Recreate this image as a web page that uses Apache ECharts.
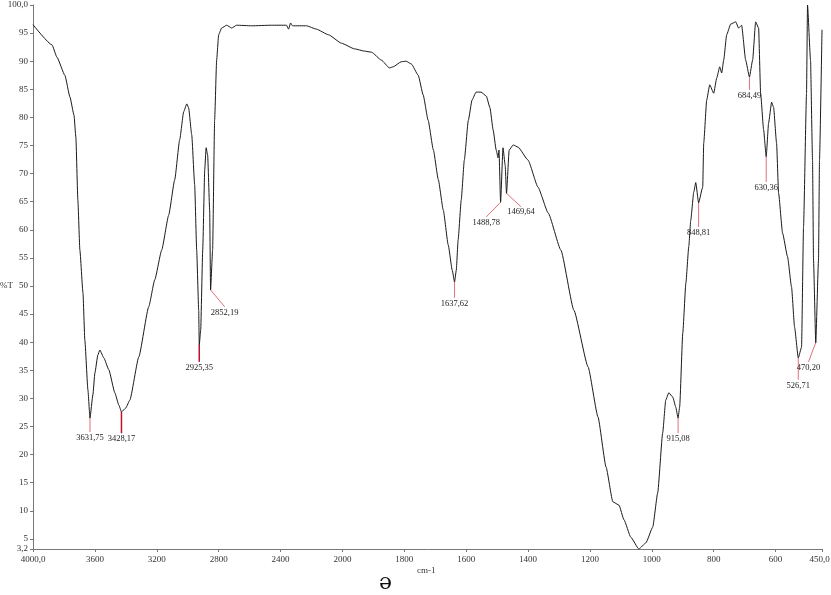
<!DOCTYPE html>
<html>
<head>
<meta charset="utf-8">
<script src="https://cdn.jsdelivr.net/npm/echarts@6/dist/echarts.min.js"></script>
<style>
  html, body { margin: 0; padding: 0; background: #fff; }
  #chart { width: 831px; height: 595px; }
</style>
</head>
<body>
<div id="chart"></div>
<script>
// spectrum, wavenumber (cm-1) and %T
const waveNumbers = [4000, 3877, 3845, 3794, 3761, 3735, 3723, 3710, 3697, 3677, 3665, 3645, 3631.75, 3613, 3600, 3581, 3568, 3542, 3510, 3471, 3445, 3428.17, 3400, 3374, 3316, 3252, 3213, 3168, 3123, 3084, 3052, 3026, 3006, 2994, 2974, 2955, 2942, 2929, 2925.35, 2916, 2903, 2890, 2881, 2871, 2858, 2852.19, 2839, 2826, 2813, 2800, 2781, 2748, 2716, 2684, 2587, 2458, 2361, 2348, 2335, 2323, 2232, 2168, 2090, 2006, 1961, 1929, 1906, 1874, 1848, 1836, 1810, 1794, 1777, 1755, 1739, 1723, 1706, 1690, 1674, 1658, 1645, 1637.62, 1632, 1626, 1616, 1606, 1593, 1581, 1568, 1552, 1535, 1523, 1513, 1503, 1497, 1494, 1488.78, 1481, 1474, 1469.64, 1461, 1448, 1432, 1400, 1368, 1335, 1294, 1252, 1206, 1174, 1148, 1126, 1106, 1090, 1068, 1042, 1019, 997, 981, 965, 955, 945, 932, 923, 915.08, 910, 900, 890, 880.6, 874.2, 864.5, 858.1, 848.81, 835.5, 832.3, 822.6, 812.9, 800, 790.3, 780.6, 774.2, 767.7, 758.1, 745.2, 729, 719.4, 709.7, 696.8, 684.49, 674.2, 664.5, 654.8, 648.4, 638.7, 630.36, 622.6, 612.9, 606.5, 596.8, 590.3, 577.4, 561.3, 548.4, 538.7, 526.71, 516.1, 509.7, 500, 496.8, 487.1, 480.6, 477.4, 470.2, 461.3, 458.1, 450];
const transmittance = [96.5, 92.9, 90.7, 87.5, 83.6, 80.4, 76.5, 65.3, 56.4, 48.8, 40.4, 31.5, 26.5, 30.6, 34.5, 37.7, 38.6, 37.2, 35.1, 31.0, 28.8, 27.6, 28.3, 29.7, 37.4, 46.3, 51.1, 56.4, 62.6, 68.9, 76.0, 81.0, 82.4, 81.7, 76.9, 68.0, 56.4, 45.7, 39.5, 42.2, 56.4, 70.6, 74.6, 73.3, 63.5, 49.3, 56.4, 79.5, 90.2, 94.7, 95.9, 96.4, 95.9, 96.4, 96.3, 96.4, 96.4, 95.7, 96.8, 96.3, 96.3, 95.7, 94.7, 93.2, 92.2, 91.8, 91.6, 90.2, 88.8, 89.0, 89.9, 90.0, 89.5, 87.5, 84.0, 79.5, 74.2, 68.9, 63.5, 57.3, 52.8, 50.7, 52.8, 58.2, 65.3, 72.4, 79.5, 83.1, 84.5, 84.5, 83.8, 81.7, 77.8, 74.2, 72.8, 74.2, 64.9, 74.6, 71.5, 66.5, 74.2, 75.1, 74.7, 72.4, 67.6, 63.0, 56.4, 45.7, 35.6, 26.7, 17.8, 11.6, 11.0, 8.4, 5.3, 3.2, 4.3, 7.1, 13.2, 23.8, 29.7, 31.0, 30.2, 28.5, 26.5, 28.5, 41.6, 50.5, 57.0, 61.7, 66.7, 68.4, 64.8, 67.6, 75.4, 83.1, 85.8, 84.3, 87.0, 89.0, 87.9, 90.2, 94.7, 96.6, 97.0, 95.9, 96.4, 90.2, 87.2, 90.2, 97.0, 95.9, 84.3, 77.8, 73.0, 79.0, 82.7, 81.8, 75.4, 66.5, 59.4, 55.2, 49.8, 42.7, 37.2, 39.1, 60.5, 84.3, 100, 90.2, 72.4, 54.6, 39.9, 54.6, 72.4, 95.6];

// peak picks
const peakLabels = ['3631,75', '3428,17', '2925,35', '2852,19', '1637,62', '1488,78', '1469,64', '915,08', '848,81', '684,49', '630,36', '526,71', '470,20'];
const peakWave = [3631.75, 3428.17, 2925.35, 2852.19, 1637.62, 1488.78, 1469.64, 915.08, 848.81, 684.49, 630.36, 526.71, 470.20];
const peakT = [26.5, 27.6, 39.5, 49.3, 50.7, 64.9, 66.5, 26.5, 64.8, 87.2, 73.0, 37.2, 39.9];
const leaderEndWave = [3631.75, 3428.17, 2925.35, 2761, 1637.62, 1535, 1423, 915.08, 848.81, 684.49, 630.36, 526.71, 493.6];
const leaderEndT = [24.0, 23.8, 36.5, 46.3, 47.9, 62.3, 64.1, 23.8, 60.5, 84.9, 68.5, 33.3, 36.5];

const xTicks = [4000, 3600, 3200, 2800, 2400, 2000, 1800, 1600, 1400, 1200, 1000, 800, 600, 450];
const yTicks = [3.2, 5, 10, 15, 20, 25, 30, 35, 40, 45, 50, 55, 60, 65, 70, 75, 80, 85, 90, 95, 100];

// axis is compressed 2:1 above 2000 cm-1
const toAxis = w => (w > 2000 ? 2000 + (w - 2000) / 2 : w);
const fromAxis = u => (u > 2000 ? 2000 + (u - 2000) * 2 : u);

const font = 'Liberation Serif';

const chart = echarts.init(document.getElementById('chart'));

const option = {
  animation: false,
  backgroundColor: '#fff',
  grid: { left: 33, right: 9, top: 5, bottom: 46, outerBoundsMode: 'none' },
  xAxis: {
    type: 'value',
    inverse: true,
    min: toAxis(450),
    max: toAxis(4000),
    axisLine: { lineStyle: { color: '#777', width: 1 } },
    axisTick: { show: true, length: 3, customValues: xTicks.map(toAxis), lineStyle: { color: '#777' } },
    axisLabel: {
      customValues: xTicks.map(toAxis),
      color: '#333',
      fontFamily: font,
      fontSize: 9,
      margin: 6,
      formatter: v => {
        const w = Math.round(fromAxis(v));
        if (w === 450) return '{end|450,0}';
        return w === 4000 ? '4000,0' : String(w);
      },
      rich: {
        end: { fontFamily: font, fontSize: 9, color: '#333', padding: [0, 5, 0, 0] }
      }
    },
    splitLine: { show: false }
  },
  yAxis: {
    type: 'value',
    min: 3.2,
    max: 100,
    axisLine: { show: true, lineStyle: { color: '#777', width: 1 } },
    axisTick: { show: true, length: 3, customValues: yTicks, lineStyle: { color: '#777' } },
    axisLabel: {
      customValues: yTicks,
      color: '#333',
      fontFamily: font,
      fontSize: 9,
      margin: 5,
      formatter: v => (v === 100 ? '100,0' : v === 3.2 ? '3,2' : String(v))
    },
    splitLine: { show: false }
  },
  series: [
    {
      type: 'line',
      data: waveNumbers.map((w, i) => [toAxis(w), transmittance[i]]),
      showSymbol: false,
      smooth: 0.15,
      smoothMonotone: 'x',
      lineStyle: { color: '#1a1a1a', width: 1 },
      silent: true
    },
    {
      type: 'custom',
      data: peakWave.map((w, i) => [toAxis(w), peakT[i], toAxis(leaderEndWave[i]), leaderEndT[i], i]),
      renderItem: (params, api) => {
        const p0 = api.coord([api.value(0), api.value(1)]);
        const p1 = api.coord([api.value(2), api.value(3)]);
        const idx = api.value(4);
        const strong = idx === 1 || idx === 2;
        return {
          type: 'group',
          children: [
            {
              type: 'line',
              shape: { x1: p0[0], y1: p0[1], x2: p1[0], y2: p1[1] },
              style: { stroke: strong ? '#c0102a' : '#e0707a', lineWidth: strong ? 1.5 : 1 }
            },
            {
              type: 'text',
              x: p1[0],
              y: p1[1] + 1,
              style: {
                text: peakLabels[idx],
                align: 'center',
                verticalAlign: 'top',
                font: '8.5px "' + font + '"',
                fill: '#222'
              }
            }
          ]
        };
      },
      silent: true,
      z: 3
    }
  ],
  graphic: [
    { type: 'text', left: 0, top: 281, style: { text: '%T', font: '9px "' + font + '"', fill: '#333' } },
    { type: 'text', left: 417, top: 566, style: { text: 'cm-1', font: '9px "' + font + '"', fill: '#333' } },
    { type: 'text', left: 379, top: 572, style: { text: 'ə', font: '22px "DejaVu Serif"', fill: '#111' } }
  ]
};

chart.setOption(option);
</script>
</body>
</html>
